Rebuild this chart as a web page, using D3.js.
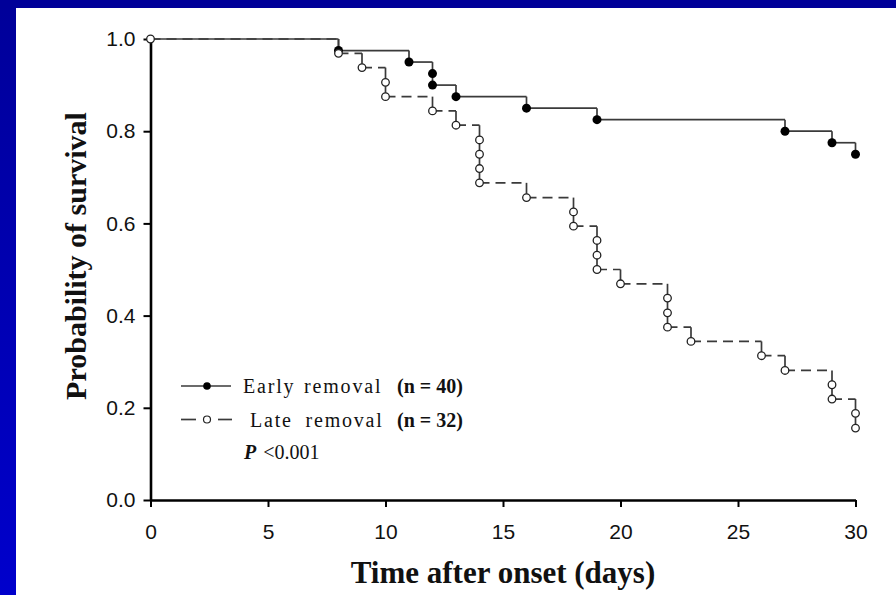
<!DOCTYPE html>
<html>
<head>
<meta charset="utf-8">
<script src="https://cdn.jsdelivr.net/npm/d3@7"></script>
<style>
  html, body { margin: 0; padding: 0; background: #0000a8; }
  svg { display: block; }
</style>
</head>
<body>
<div id="chart"></div>
<script>
// Kaplan-Meier steps (time in days, survival probability)
const earlyTimes = [0, 8, 11, 12, 12, 13, 16, 19, 27, 29, 30];
const earlySurv = [1.0, 0.975, 0.95, 0.925, 0.9, 0.875, 0.85, 0.825, 0.8, 0.775, 0.75];

const lateTimes = [0, 8, 9, 10, 10, 12, 13, 14, 14, 14, 14, 16, 18, 18, 19, 19, 19, 20,
  22, 22, 22, 23, 26, 27, 29, 29, 30, 30];
const lateSurv = [1.0, 0.969, 0.938, 0.906, 0.875, 0.844, 0.813, 0.781, 0.75, 0.719, 0.688,
  0.656, 0.625, 0.594, 0.563, 0.531, 0.5, 0.469, 0.438, 0.406, 0.375, 0.344, 0.313,
  0.281, 0.25, 0.219, 0.188, 0.156];

const xTicks = [0, 5, 10, 15, 20, 25, 30];
const yTicks = [0, 0.2, 0.4, 0.6, 0.8, 1.0];

const legendLabels = ['Early removal', 'Late removal'];
const legendCounts = ['(n = 40)', '(n = 32)'];
const pText = '<0.001';

const width = 896, height = 595;
const svg = d3.select('#chart').append('svg')
  .attr('width', width)
  .attr('height', height);

// blue slide frame
const defs = svg.append('defs');
const grad = defs.append('linearGradient')
  .attr('id', 'frame').attr('x1', 0).attr('y1', 0).attr('x2', 0).attr('y2', 1);
grad.append('stop').attr('offset', '0%').attr('stop-color', '#000099');
grad.append('stop').attr('offset', '100%').attr('stop-color', '#0000cc');
svg.append('rect').attr('width', width).attr('height', height).attr('fill', 'url(#frame)');
svg.append('rect').attr('width', width).attr('height', 8).attr('fill', '#000099');
svg.append('rect')
  .attr('x', 16).attr('y', 8)
  .attr('width', width - 16).attr('height', height - 8)
  .attr('fill', '#ffffff');

const x = d3.scaleLinear().domain([0, 30]).range([150.5, 855.5]);
const y = d3.scaleLinear().domain([0, 1]).range([500, 39]);

// axes
const xAxis = svg.append('g')
  .attr('transform', `translate(0,${y(0)})`)
  .call(d3.axisBottom(x).tickValues(xTicks).tickSize(7).tickSizeOuter(0).tickPadding(17));
const yAxis = svg.append('g')
  .attr('transform', `translate(${x(0)},0)`)
  .call(d3.axisLeft(y).tickValues(yTicks).tickSize(7).tickSizeOuter(0).tickPadding(8)
    .tickFormat(d3.format('.1f')));

[xAxis, yAxis].forEach(a => {
  a.select('.domain').attr('stroke', '#000').attr('stroke-width', 2.6);
  a.selectAll('.tick line').attr('stroke', '#000').attr('stroke-width', 2);
  a.selectAll('.tick text')
    .attr('fill', '#111')
    .style('font-family', 'Arial, "Liberation Sans", sans-serif')
    .style('font-size', '21px');
});

// axis titles
svg.append('text')
  .attr('x', 503).attr('y', 583)
  .attr('text-anchor', 'middle')
  .style('font-family', '"Times New Roman", "Liberation Serif", serif')
  .style('font-weight', 'bold')
  .style('font-size', '31px')
  .attr('fill', '#111')
  .text('Time after onset (days)');

svg.append('text')
  .attr('transform', 'translate(86,256) rotate(-90)')
  .attr('text-anchor', 'middle')
  .style('font-family', '"Times New Roman", "Liberation Serif", serif')
  .style('font-weight', 'bold')
  .style('font-size', '30px')
  .attr('fill', '#111')
  .text('Probability of survival');

// step curves: horizontal runs then vertical drops
function steps(times, surv) {
  const hs = [], vs = [];
  for (let i = 1; i < times.length; i++) {
    if (times[i] > times[i - 1]) hs.push([times[i - 1], times[i], surv[i - 1]]);
    vs.push([times[i], surv[i - 1], surv[i]]);
  }
  return { hs, vs };
}

const lineColor = '#3a3a3a';

function drawCurve(times, surv, dash) {
  const s = steps(times, surv);
  const g = svg.append('g');
  g.selectAll('.h').data(s.hs).enter().append('line')
    .attr('x1', d => x(d[0])).attr('x2', d => x(d[1]))
    .attr('y1', d => y(d[2])).attr('y2', d => y(d[2]))
    .attr('stroke', lineColor).attr('stroke-width', 1.7)
    .attr('stroke-dasharray', dash);
  g.selectAll('.v').data(s.vs).enter().append('line')
    .attr('x1', d => x(d[0])).attr('x2', d => x(d[0]))
    .attr('y1', d => y(d[1])).attr('y2', d => y(d[2]))
    .attr('stroke', lineColor).attr('stroke-width', 1.7);
}

drawCurve(earlyTimes, earlySurv, null);
drawCurve(lateTimes, lateSurv, '10,6');

// markers: filled for early removal events, open for late removal
const earlyPts = earlyTimes.map((t, i) => [t, earlySurv[i]]).slice(1);
const latePts = lateTimes.map((t, i) => [t, lateSurv[i]]);

svg.append('g').selectAll('circle').data(earlyPts).enter().append('circle')
  .attr('cx', d => x(d[0])).attr('cy', d => y(d[1]))
  .attr('r', 4.5).attr('fill', '#000');

svg.append('g').selectAll('circle').data(latePts).enter().append('circle')
  .attr('cx', d => x(d[0])).attr('cy', d => y(d[1]))
  .attr('r', 3.8).attr('fill', '#fff')
  .attr('stroke', '#222').attr('stroke-width', 1.3);

// legend
const legend = svg.append('g');
const rowY = [386, 419.5];

legend.append('line')
  .attr('x1', 181).attr('x2', 231).attr('y1', rowY[0]).attr('y2', rowY[0])
  .attr('stroke', lineColor).attr('stroke-width', 1.7);
legend.append('circle')
  .attr('cx', 207).attr('cy', rowY[0]).attr('r', 3.8).attr('fill', '#000');

legend.append('line')
  .attr('x1', 181).attr('x2', 196).attr('y1', rowY[1]).attr('y2', rowY[1])
  .attr('stroke', lineColor).attr('stroke-width', 1.7);
legend.append('line')
  .attr('x1', 218).attr('x2', 232).attr('y1', rowY[1]).attr('y2', rowY[1])
  .attr('stroke', lineColor).attr('stroke-width', 1.7);
legend.append('circle')
  .attr('cx', 207).attr('cy', rowY[1]).attr('r', 3.5)
  .attr('fill', '#fff').attr('stroke', '#222').attr('stroke-width', 1.2);

const serif = '"Times New Roman", "Liberation Serif", serif';
legendLabels.forEach((lab, i) => {
  legend.append('text')
    .attr('x', i === 0 ? 243 : 250).attr('y', rowY[i] + 7)
    .style('font-family', serif).style('font-size', '20px')
    .style('letter-spacing', '1.8px').style('word-spacing', i === 0 ? '2px' : '6px')
    .attr('fill', '#111')
    .text(lab);
  legend.append('text')
    .attr('x', 397).attr('y', rowY[i] + 7)
    .style('font-family', serif).style('font-size', '20px')
    .style('font-weight', 'bold')
    .attr('fill', '#111')
    .text(legendCounts[i]);
});

const pLine = legend.append('text')
  .attr('x', 244).attr('y', 459)
  .style('font-family', serif).style('font-size', '20px')
  .attr('fill', '#111');
pLine.append('tspan').style('font-style', 'italic').style('font-weight', 'bold').text('P');
pLine.append('tspan').attr('dx', 7).text(pText);
</script>
</body>
</html>
